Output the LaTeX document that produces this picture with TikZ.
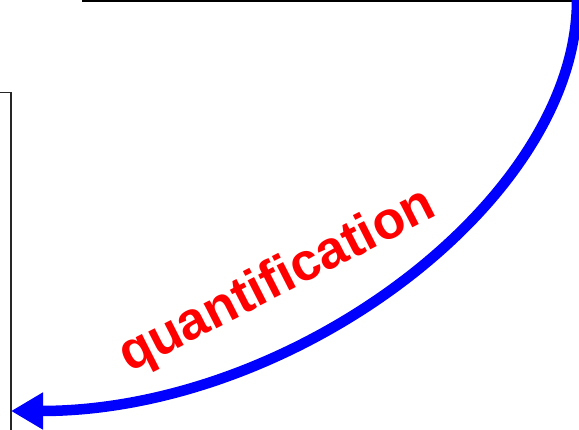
\documentclass[tikz,border=0pt]{standalone}
\usepackage{fontspec}
\setmainfont{Liberation Sans}
\usetikzlibrary{arrows.meta}
\begin{document}
\begin{tikzpicture}[x=1pt,y=-1pt,
  frame/.style={draw=black!85,line width=1.6pt},
  flow/.style={draw=blue,line width=10.5pt,-{Triangle[length=32pt,width=35pt]}},
  lbl/.style={text=red,font=\bfseries\fontsize{53}{53}\selectfont,inner sep=0pt}]
\useasboundingbox (0,0) rectangle (579,429);
\coordinate (topL) at (82,1);
\coordinate (topR) at (585,1);
\coordinate (boxC) at (11,92.5);
\coordinate (boxL) at (-5,92.5);
\coordinate (boxB) at (11,435);
\coordinate (start) at (577,0);
\coordinate (tip) at (11,411);
\draw[draw=black,line width=2.2pt] (topL) -- (topR);
\draw[frame] (boxL) -- (boxC) -- (boxB);
\draw[flow] (start) .. controls (577,200) and (294,411) .. (tip);
\node[lbl,anchor=base,rotate=27] (q) at (284,294) {quantification};
\end{tikzpicture}
\end{document}
